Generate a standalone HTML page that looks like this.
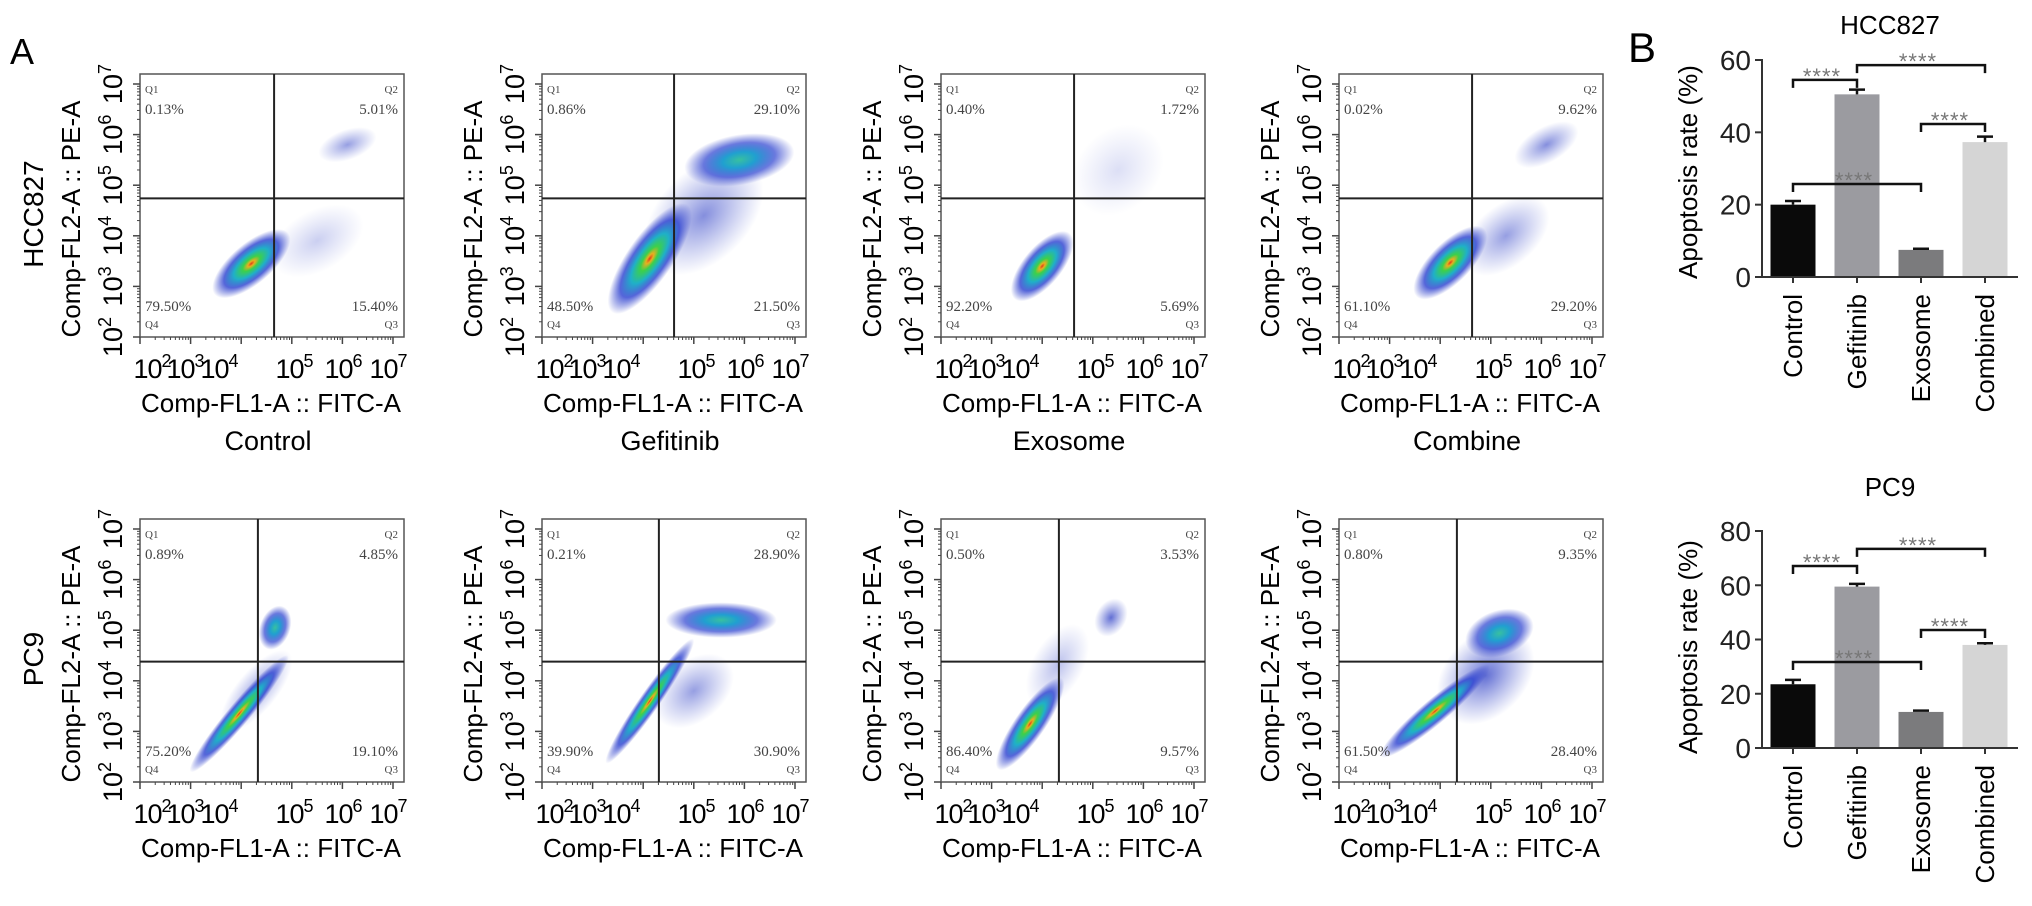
<!DOCTYPE html>
<html><head><meta charset="utf-8">
<style>
html,body{margin:0;padding:0;background:#fff;}
svg{display:block;font-family:"Liberation Sans",sans-serif;}
</style></head>
<body>
<svg id="fig" width="2032" height="906" viewBox="0 0 2032 906" xmlns="http://www.w3.org/2000/svg">
<defs>
<radialGradient id="gHot"><stop offset="0" stop-color="#e03a1a"/><stop offset="0.09" stop-color="#e8b020"/><stop offset="0.22" stop-color="#3cd04a"/><stop offset="0.45" stop-color="#1fb0c8"/><stop offset="0.7" stop-color="#2a3fd0" stop-opacity="0.8"/><stop offset="1" stop-color="#3040c8" stop-opacity="0"/></radialGradient>
<radialGradient id="gWarm"><stop offset="0" stop-color="#38c0a0"/><stop offset="0.3" stop-color="#20a0d0"/><stop offset="0.65" stop-color="#2a40d0" stop-opacity="0.7"/><stop offset="1" stop-color="#3040c8" stop-opacity="0"/></radialGradient>
<radialGradient id="gCool"><stop offset="0" stop-color="#3848c8" stop-opacity="0.8"/><stop offset="1" stop-color="#5060d0" stop-opacity="0"/></radialGradient>
</defs>
<text x="10" y="64" font-size="36">A</text>
<text x="1628" y="62" font-size="42">B</text>
</svg>
<script>
// ---- Flow cytometry data ----
const rowNames = ["HCC827", "PC9"];
const colNames = ["Control", "Gefitinib", "Exosome", "Combine"];
const q1Pct = [["0.13%", "0.86%", "0.40%", "0.02%"], ["0.89%", "0.21%", "0.50%", "0.80%"]];
const q2Pct = [["5.01%", "29.10%", "1.72%", "9.62%"], ["4.85%", "28.90%", "3.53%", "9.35%"]];
const q3Pct = [["15.40%", "21.50%", "5.69%", "29.20%"], ["19.10%", "30.90%", "9.57%", "28.40%"]];
const q4Pct = [["79.50%", "48.50%", "92.20%", "61.10%"], ["75.20%", "39.90%", "86.40%", "61.50%"]];
const gateX = [[4.65, 4.61, 4.63, 4.63], [4.33, 4.31, 4.33, 4.33]];
const gateY = [4.74, 4.38];
const xTickLabels = ["2", "3", "4", "5", "6", "7"];
// clusters: [log x, log y, spread along (decades), spread across, angle deg, intensity]
const clusters = [
 [
  [[5.5,3.9,1.0,0.6,30,0.15],[6.1,5.8,0.6,0.3,20,0.3],[4.2,3.45,0.95,0.4,40,0.9]],
  [[5.2,4.4,1.4,0.9,45,0.35],[5.9,5.5,1.1,0.5,10,0.6],[4.13,3.55,1.3,0.45,55,0.95]],
  [[5.5,5.3,1.0,0.8,45,0.1],[4.0,3.4,0.85,0.38,50,0.85]],
  [[5.3,4.0,1.0,0.6,40,0.3],[6.1,5.8,0.7,0.35,30,0.35],[4.2,3.47,0.95,0.4,45,0.9]]
 ],
 [
  [[4.67,5.05,0.45,0.3,70,0.5],[4.3,3.8,1.0,0.4,50,0.3],[3.96,3.35,1.5,0.22,50,0.9]],
  [[5.0,3.8,0.9,0.6,40,0.3],[5.54,5.2,1.1,0.35,0,0.6],[4.13,3.6,1.5,0.2,55,0.9]],
  [[4.3,4.3,0.9,0.5,60,0.2],[5.36,5.25,0.4,0.3,60,0.45],[3.76,3.15,1.1,0.3,55,0.95]],
  [[4.9,4.1,1.1,0.8,45,0.45],[5.17,4.94,0.7,0.45,20,0.6],[3.9,3.4,1.4,0.25,40,0.9]]
 ]
];

// ---- Bar chart data ----
const barCats = ["Control", "Gefitinib", "Exosome", "Combined"];
const barColors = ["#0a0a0a", "#9b9ba0", "#7b7b7d", "#d5d5d5"];
const hccValues = [20.0, 50.5, 7.5, 37.3];
const hccErrors = [1.0, 1.3, 0.3, 1.5];
const hccTicks = [0, 20, 40, 60];
const hccBrackets = [[0, 1, 54.5], [1, 3, 58.6], [2, 3, 42.3], [0, 2, 25.7]];
const pc9Values = [23.5, 59.5, 13.3, 38.0];
const pc9Errors = [1.6, 1.0, 0.5, 0.6];
const pc9Ticks = [0, 20, 40, 60, 80];
const pc9Brackets = [[0, 1, 67.1], [1, 3, 73.4], [2, 3, 43.5], [0, 2, 31.7]];

const NS = "http://www.w3.org/2000/svg";
const svg = document.getElementById("fig");
function mk(tag, attrs, parent, txt) {
  const e = document.createElementNS(NS, tag);
  for (const k in attrs) e.setAttribute(k, attrs[k]);
  if (txt !== undefined) e.textContent = txt;
  (parent || svg).appendChild(e);
  return e;
}

// ---- Flow plots ----
const boxLeft = [140, 542, 941, 1339];
const boxTop = [74, 519];
const boxW = 264, boxH = 263, dec = 50.6;
const xLabOff = [12, 45, 79, 154, 203, 248];

for (let r = 0; r < 2; r++) {
  const top = boxTop[r], bottom = top + boxH;
  const rl = mk("text", {x: 0, y: 0, "font-size": 28, "text-anchor": "middle",
    transform: "translate(43," + (top + 140) + ") rotate(-90)"}, svg, rowNames[r]);
  
  
  for (let c = 0; c < 4; c++) {
    const L = boxLeft[c], R = L + boxW;
    const xs = v => L + (v - 2) * dec;
    const ys = v => bottom - (v - 2) * dec;
    const g = mk("g", {});
    
    
    const cg = mk("g", {}, g);
    clusters[r][c].forEach((k, i) => {
      const grad = k[5] > 0.8 ? "gHot" : (k[5] > 0.45 ? "gWarm" : "gCool");
      const op = k[5] > 0.45 ? 1 : Math.min(1, k[5] * 2.2);
      const el = mk("ellipse", {cx: xs(k[0]), cy: ys(k[1]), rx: k[2] * dec, ry: k[3] * dec,
        fill: "url(#" + grad + ")", opacity: op,
        transform: "rotate(" + (-k[4]) + " " + xs(k[0]) + " " + ys(k[1]) + ")"}, cg);
      
      
    });
    const bx = mk("rect", {x: L, y: top, width: boxW, height: boxH, fill: "none", stroke: "#555", "stroke-width": 1.5}, g);
    
    
    const gv = mk("line", {x1: xs(gateX[r][c]), x2: xs(gateX[r][c]), y1: top, y2: bottom, stroke: "#222", "stroke-width": 2}, g);
    
    
    const gh = mk("line", {x1: L, x2: R, y1: ys(gateY[r]), y2: ys(gateY[r]), stroke: "#222", "stroke-width": 2}, g);
    
    
    const serif = {"font-family": "Liberation Serif, serif", fill: "#444"};
    const qs = [
      [L + 5, top + 19, "start", 11, "Q1"], [L + 5, top + 40, "start", 15, q1Pct[r][c]],
      [R - 6, top + 19, "end", 11, "Q2"], [R - 6, top + 40, "end", 15, q2Pct[r][c]],
      [R - 6, bottom - 26, "end", 15, q3Pct[r][c]], [R - 6, bottom - 9, "end", 11, "Q3"],
      [L + 5, bottom - 26, "start", 15, q4Pct[r][c]], [L + 5, bottom - 9, "start", 11, "Q4"]];
    qs.forEach(q => {
      const t = mk("text", Object.assign({x: q[0], y: q[1], "text-anchor": q[2], "font-size": q[3]}, serif), g, q[4]);
      
      
    });
    const ax = mk("g", {stroke: "#444", "stroke-width": 1.5}, g);
    
    
    for (let d = 2; d <= 7; d++) {
      mk("line", {x1: L - 7, x2: L, y1: ys(d), y2: ys(d)}, ax);
      mk("line", {x1: xs(d), x2: xs(d), y1: bottom, y2: bottom + 7}, ax);
      if (d < 7) for (let m = 2; m <= 9; m++) {
        const v = d + Math.log10(m);
        mk("line", {x1: L - 3, x2: L, y1: ys(v), y2: ys(v), "stroke-width": 1}, ax);
        mk("line", {x1: xs(v), x2: xs(v), y1: bottom, y2: bottom + 3, "stroke-width": 1}, ax);
      }
    }
    xTickLabels.forEach((lab, i) => {
      const t = mk("text", {x: L + xLabOff[i], y: bottom + 41, "font-size": 27, "text-anchor": "middle", "letter-spacing": -1}, g);
      
      
      mk("tspan", {}, t, "10");
      mk("tspan", {"font-size": 18, dy: -11}, t, lab);
      const ty = mk("text", {x: 0, y: 0, "font-size": 27, "text-anchor": "middle",
        transform: "translate(" + (L - 18) + "," + ys(i + 2) + ") rotate(-90)"}, g);
      
      
      mk("tspan", {}, ty, "10");
      mk("tspan", {"font-size": 18, dy: -11}, ty, lab);
    });
    const yt = mk("text", {x: 0, y: 0, "font-size": 26, "text-anchor": "middle",
      transform: "translate(" + (L - 60) + "," + (top + 145) + ") rotate(-90)"}, g, "Comp-FL2-A :: PE-A");
    
    
    const xt = mk("text", {x: L + 131, y: bottom + 75, "font-size": 26, "text-anchor": "middle"}, g, "Comp-FL1-A :: FITC-A");
    
    
    if (r === 0) {
      const cl = mk("text", {x: L + 128, y: 450, "font-size": 27, "text-anchor": "middle"}, g, colNames[c]);
      
      
    }
  }
}

// ---- Bar charts ----
function barChart(name, title, values, errors, ticks, brackets, y0, yMax, maxV, titleY, yTitleY) {
  const g = mk("g", {});
  
  
  const axX = 1762, c0 = 1793, step = 64, bw = 45;
  const ys = v => y0 - v * (y0 - yMax) / maxV;
  const xc = i => c0 + i * step;
  const tt = mk("text", {x: 1890, y: titleY, "font-size": 26, "text-anchor": "middle"}, g, title);
  
  
  values.forEach((v, i) => {
    const b = mk("rect", {x: xc(i) - bw / 2, y: ys(v), width: bw, height: y0 - ys(v), fill: barColors[i]}, g);
    
    
    const e = mk("path", {d: "M" + xc(i) + " " + ys(v) + "V" + ys(v + errors[i]) + "M" + (xc(i) - 8) + " " + ys(v + errors[i]) + "H" + (xc(i) + 8),
      stroke: "#111", "stroke-width": 2.5, fill: "none"}, g);
    
    
    const xl = mk("text", {x: 0, y: 0, "font-size": 26, "text-anchor": "end",
      transform: "translate(" + (xc(i) + 9) + "," + (y0 + 17) + ") rotate(-90)"}, g, barCats[i]);
    
    
    mk("line", {x1: xc(i), x2: xc(i), y1: y0, y2: y0 + 6, stroke: "#333", "stroke-width": 2}, g);
  });
  const axes = mk("path", {d: "M" + axX + " " + (yMax - 1) + "V" + y0 + "H2018", stroke: "#333", "stroke-width": 2, fill: "none"}, g);
  
  
  ticks.forEach(t => {
    mk("line", {x1: axX - 7, x2: axX, y1: ys(t), y2: ys(t), stroke: "#333", "stroke-width": 2}, g);
    const tl = mk("text", {x: axX - 11, y: ys(t) + 10, "font-size": 28, "text-anchor": "end", fill: "#222"}, g, String(t));
    
    
  });
  const yt = mk("text", {x: 0, y: 0, "font-size": 26, "text-anchor": "middle",
    transform: "translate(1697," + yTitleY + ") rotate(-90)"}, g, "Apoptosis rate (%)");
  
  
  brackets.forEach(b => {
    const y = ys(b[2]);
    const p = mk("path", {d: "M" + xc(b[0]) + " " + (y + 8) + "V" + y + "H" + xc(b[1]) + "V" + (y + 8),
      stroke: "#111", "stroke-width": 2.5, fill: "none"}, g);
    
    
    const s = mk("text", {x: (xc(b[0]) + xc(b[1])) / 2 - 3, y: y + 4, "font-size": 22, "text-anchor": "middle", fill: "#777", "letter-spacing": 1}, g, "****");
    
    
  });
}
barChart("bar-chart-hcc827", "HCC827", hccValues, hccErrors, hccTicks, hccBrackets, 277, 60, 60, 34, 172);
barChart("bar-chart-pc9", "PC9", pc9Values, pc9Errors, pc9Ticks, pc9Brackets, 748, 531, 80, 496, 647);
</script>
</body></html>
